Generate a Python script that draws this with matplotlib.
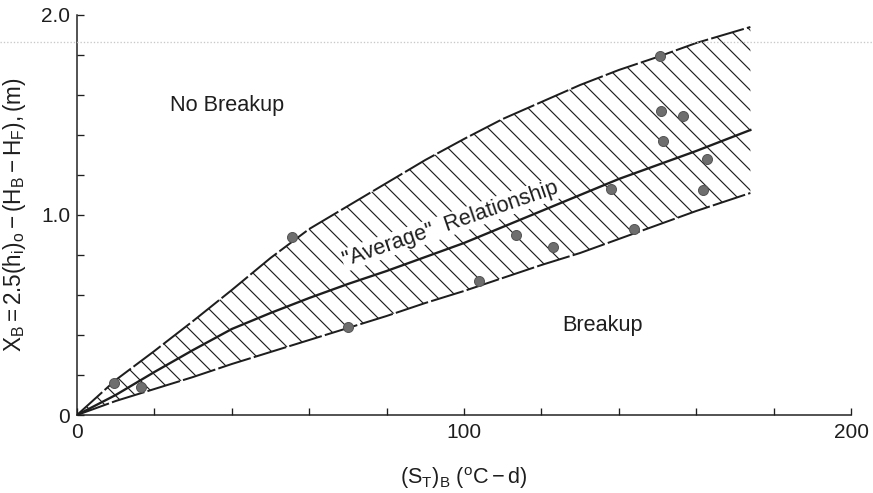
import numpy as np
import matplotlib
matplotlib.use('Agg')
import matplotlib.pyplot as plt
from matplotlib.lines import Line2D
from matplotlib.ticker import MultipleLocator, FixedLocator

plt.rcParams['font.family'] = ['Liberation Sans', 'DejaVu Sans']
plt.rcParams['mathtext.fontset'] = 'custom'
plt.rcParams['mathtext.rm'] = 'Liberation Sans'
plt.rcParams['mathtext.it'] = 'Liberation Sans'
plt.rcParams['hatch.linewidth'] = 0.7

# envelope: x = (S_T)_B in degC-days, y = X_B in m
env_x = [0, 10, 20, 30, 40, 50, 60, 70, 80, 90, 100, 110, 120, 130, 140, 150, 160, 174]
upper_y = [0, 0.175, 0.32, 0.47, 0.625, 0.785, 0.93, 1.045, 1.16, 1.275, 1.38, 1.48,
           1.565, 1.65, 1.725, 1.79, 1.86, 1.94]
avg_y = [0, 0.10, 0.215, 0.325, 0.43, 0.51, 0.585, 0.655, 0.72, 0.79, 0.86, 0.94,
         1.02, 1.10, 1.18, 1.25, 1.32, 1.425]
lower_y = [0, 0.07, 0.13, 0.19, 0.255, 0.315, 0.375, 0.435, 0.495, 0.56, 0.62, 0.685,
           0.75, 0.81, 0.88, 0.95, 1.02, 1.11]

# observed breakup points
obs_x = [9.5, 16.5, 55.5, 70, 104, 113.5, 123, 137.9, 143.8, 150.6, 150.8, 151.3,
         156.7, 161.8, 162.9]
obs_y = [0.16, 0.14, 0.89, 0.44, 0.67, 0.90, 0.84, 1.13, 0.93, 1.795, 1.52, 1.37,
         1.495, 1.125, 1.28]

dpi = 120
fig = plt.figure(figsize=(873 / dpi, 493 / dpi), dpi=dpi)
ax = fig.add_axes([0.0882, 0.1582, 0.8866, 0.8114])

ink = '#1e1e1e'

# hatched band
ax.fill_between(env_x, lower_y, upper_y, facecolor='none', edgecolor=ink,
                hatch='\\\\', linewidth=0)
ax.plot(env_x, upper_y, color=ink, lw=1.2, dashes=(17, 1.6))
ax.plot(env_x, lower_y, color=ink, lw=1.2, dashes=(17, 1.6))
ax.plot(env_x, avg_y, color=ink, lw=1.4)

ax.plot(obs_x, obs_y, 'o', ms=6, mfc='#6e6e6e', mec='#555555', mew=0.6, zorder=5)

# annotations
ax.text(38.8, 1.545, 'No Breakup', fontsize=13, color=ink, ha='center', va='center')
ax.text(135.8, 0.447, 'Breakup', fontsize=13, color=ink, ha='center', va='center')
ax.text(96.5, 0.955, '"Average"  Relationship', fontsize=13, color=ink,
        ha='center', va='center', rotation=19, rotation_mode='anchor', zorder=4,
        bbox=dict(facecolor='white', edgecolor='none', pad=0.5))

ax.set_xlim(0, 200)
ax.set_ylim(0, 2.0)
ax.xaxis.set_major_locator(FixedLocator([0, 100, 200]))
ax.xaxis.set_minor_locator(MultipleLocator(20))
ax.yaxis.set_major_locator(FixedLocator([0, 1.0, 2.0]))
ax.yaxis.set_minor_locator(MultipleLocator(0.2))
ax.set_xticklabels(['0', '100', '200'])
ax.set_yticklabels(['0', '1.0', '2.0'])
ax.tick_params(which='both', direction='in', length=4, width=0.8, color=ink,
               labelsize=12.5, labelcolor=ink)
ax.tick_params(axis='x', pad=5)
ax.tick_params(axis='y', pad=4)

for s in ['top', 'right']:
    ax.spines[s].set_visible(False)
for s in ['left', 'bottom']:
    ax.spines[s].set_color(ink)
    ax.spines[s].set_linewidth(0.9)

ax.set_xlabel(r'$\mathrm{(S_T)_B\ (^oC - d)}$', fontsize=13, color=ink, labelpad=14)
ax.set_ylabel(r'$\mathrm{X_B= 2.5(h_i)_o - (H_B - H_F),(m)}$', fontsize=13.5,
              color=ink, labelpad=8)

# faint dotted scan line across the top of the page
fig.add_artist(Line2D([0, 1], [1 - 42 / 493] * 2, transform=fig.transFigure,
                      color='#c8c8c8', lw=0.8, ls=(0, (1, 1.5))))

fig.savefig('out.png', dpi=dpi)
